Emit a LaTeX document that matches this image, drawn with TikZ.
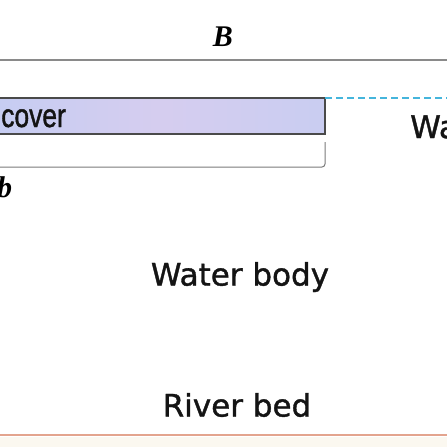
\documentclass[tikz,border=0pt]{standalone}
\usepackage{fontspec}
\newfontfamily\labelfont[FakeBold=1.2]{DejaVu Sans}
\newfontfamily\covfont[FakeBold=1.5]{Liberation Sans}
\newfontfamily\symfont{Liberation Serif}
\definecolor{topline}{HTML}{8A8A8A}
\definecolor{iceedge}{HTML}{4A4A4A}
\definecolor{icefill}{HTML}{C6CDF2}
\definecolor{icepink}{HTML}{DCCDEE}
\definecolor{waterdash}{HTML}{45B5DC}
\definecolor{bracketgray}{HTML}{7A7A7A}
\definecolor{bedline}{HTML}{E3A48E}
\definecolor{bedbg}{HTML}{FBF8F0}
\tikzset{
  lbl/.style={font=\labelfont\fontsize{31}{34}\selectfont, inner sep=0pt, text=black!92},
  cov/.style={font=\covfont\fontsize{33}{36}\selectfont, inner sep=0pt, text=black!92, xscale=0.8},
  sym/.style={font=\symfont\fontsize{30}{33}\selectfont\bfseries\itshape, inner sep=0pt}
}
\begin{document}
\begin{tikzpicture}[x=1pt,y=-1pt]
\useasboundingbox (0,0) rectangle (447,447);
\clip (0,0) rectangle (447,447);
\fill[white] (0,0) rectangle (447,447);
\fill[bedbg] (0,437) rectangle (447,447);
% top line and B
\node[sym] (B) at (223,37) {B};
\draw[topline, line width=1.6pt] (0,60) -- (447,60);
% ice cover
\path[left color=icefill, right color=icefill!85!icepink, middle color=icepink!70!icefill] (-5,98) rectangle (325,134);
\draw[iceedge, line width=1.4pt] (-5,98) rectangle (325,134);
\node[cov, anchor=base east] (ice) at (66,127) {cover};
\coordinate (iceTR) at (325,98);
\coordinate (dashEnd) at (447,98);
\draw[waterdash, line width=2pt, dash pattern=on 6.5pt off 4.5pt] (iceTR) -- (dashEnd);
\node[lbl, anchor=base west] (ws) at (410,138) {Wa};
% thickness bracket
\coordinate (brTop) at (325,142);
\coordinate (brLeft) at (-5,167);
\draw[bracketgray, line width=1pt, rounded corners=3pt] (brTop) -- (325,167) -- (brLeft);
\node[sym, anchor=base west] (b) at (-3,197) {b};
% labels
\node[lbl] (water) at (240,277) {Water body};
\node[lbl] (bed) at (237,405) {River bed};
\draw[bedline, line width=2.5pt] (0,435) -- (447,435);
\end{tikzpicture}
\end{document}
